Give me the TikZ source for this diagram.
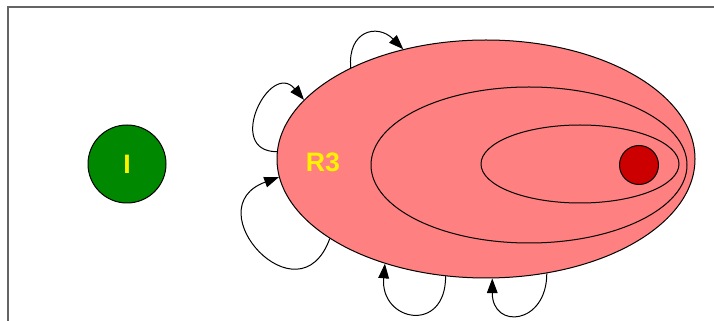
\documentclass[tikz,border=0pt]{standalone}
\usepackage{fontspec}
\setmainfont{Liberation Sans}
\usetikzlibrary{arrows.meta,shapes.geometric,positioning}
\definecolor{stategreen}{RGB}{0,136,0}
\definecolor{regionred}{RGB}{255,128,128}
\definecolor{goalred}{RGB}{204,0,0}
\definecolor{framegray}{RGB}{100,100,100}
\tikzset{
  >={Triangle[length=11pt,width=8pt]},
  line cap=round,
  line join=round,
  every picture/.style={line width=0.75pt},
  region/.style={draw, ellipse, inner sep=0pt, fill=regionred},
  statecircle/.style={draw, circle, inner sep=0pt},
  labeltext/.style={text=yellow, font=\bfseries\fontsize{20}{24}\selectfont},
  loopedge/.style={->}
}
\begin{document}
\begin{tikzpicture}[x=0.75pt,y=0.75pt]
  \useasboundingbox (0,0) rectangle (714,321);
  \draw[framegray, line width=1.5pt] (8,0) -- (8,314) -- (714,314);

  \node[statecircle, fill=stategreen, labeltext, minimum size=58.5pt] (init) at (127,157) {I};

  \node[region, minimum width=313.5pt, minimum height=178.5pt] (r3) at (486,162) {};
  \node[region, minimum width=237pt, minimum height=117pt] (r2) at (529,156) {};
  \node[region, minimum width=148.5pt, minimum height=58.5pt] (r1) at (580,157) {};
  \node[statecircle, fill=goalred, minimum size=29.25pt] (goal) at (639,156) {};
  \node[labeltext] (r3label) at (323,159) {R3};

  % self loops round R3
  \draw[loopedge] (r3.146) to[out=95, in=135, looseness=1.7] (r3.127);
  \draw[loopedge] (r3.178) to[out=180, in=130, looseness=2.3] (r3.162);
  \draw[loopedge] (r3.207) to[out=250, in=200, looseness=2.9] (r3.185);
  \draw[loopedge] (r3.251) to[out=270, in=265, looseness=2.4] (r3.226);
  \draw[loopedge] (r3.298) to[out=270, in=270, looseness=2.4] (r3.273);
\end{tikzpicture}
\end{document}
